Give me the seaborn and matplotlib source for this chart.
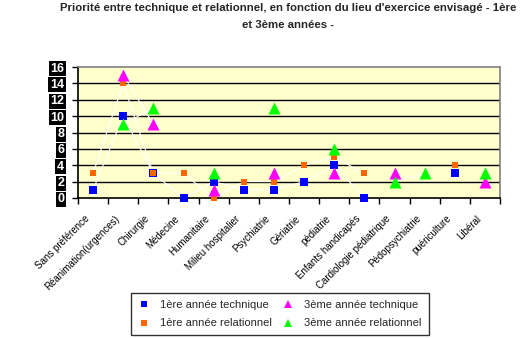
import numpy as np
import pandas as pd
import matplotlib
matplotlib.use("Agg")
import matplotlib.pyplot as plt
import seaborn as sns
from matplotlib.lines import Line2D

categories = ["Sans préférence", "Réanimation(urgences)", "Chirurgie", "Médecine",
              "Humanitaire", "Milieu hospitalier", "Psychiatrie", "Gériatrie",
              "pédiatrie", "Enfants handicapés", "Cardiologie pédiatrique",
              "Pédopsychiatrie", "puériculture", "Libéral"]
nan = np.nan
tech1 = [1, 10, 3, 0, 2, 1, 1, 2, 4, 0, nan, nan, 3, nan]
rel1 = [3, 14, 3, 3, 0, 2, 2, 4, 5, 3, nan, nan, 4, nan]
tech3 = [nan, 15, 9, nan, 1, nan, 3, nan, 3, nan, 3, nan, nan, 2]
rel3 = [nan, 9, 11, nan, 3, nan, 11, nan, 6, nan, 2, 3, nan, 3]
series_names = ["1ère année technique", "1ère année relationnel",
                "3ème année technique", "3ème année relationnel"]
yticks = [0, 2, 4, 6, 8, 10, 12, 14, 16]
title = "Priorité entre technique et relationnel, en fonction du lieu d'exercice envisagé - 1ère\net 3ème années -"

sns.set_theme(style="white")
plt.rcParams['font.family'] = ['Liberation Sans', 'DejaVu Sans']

W, H = 530, 338
fig = plt.figure(figsize=(W / 100, H / 100), dpi=100)
ax = fig.add_axes([78 / W, 1 - 198 / H, (500 - 78) / W, (198 - 67) / H])
ax.set_facecolor("#FFFFCC")

x = np.arange(len(categories)) + 0.5
specs = [
    (tech1, "#0000FF", "s", 40),
    (rel1, "#FF6600", "s", 14),
    (tech3, "#FF00FF", "^", 75),
    (rel3, "#00FF00", "^", 75),
]
for (vals, col, mk, s), name in zip(specs, series_names):
    ax.plot(x, vals, color="white", lw=0.8, zorder=2)
for (vals, col, mk, s), name in zip(specs, series_names):
    df = pd.DataFrame({"x": x, "y": vals}).dropna()
    sns.scatterplot(data=df, x="x", y="y", ax=ax, color=col, marker=mk, s=s,
                    linewidth=0, zorder=3, clip_on=False, legend=False)

ax.set_xlim(0, len(categories))
ax.set_ylim(0, 16)
ax.set_yticks(yticks)
for yv in yticks[1:-1]:
    ax.axhline(yv, color="black", lw=1, zorder=1)
ax.set_xticks(np.arange(len(categories) + 1))
ax.set_xticklabels([])
ax.tick_params(axis="x", direction="out", length=4, width=1, color="black", bottom=True)
ax.tick_params(axis="y", direction="out", length=4, width=1, color="black", left=True, pad=6)
ax.set_yticklabels([str(v) for v in yticks], fontsize=9, fontweight="bold", color="white",
                   bbox=dict(boxstyle="square,pad=0.12", fc="black", ec="none"))
ax.set_xlabel("")
ax.set_ylabel("")
for side in ["top", "right"]:
    ax.spines[side].set_color("#808080")
    ax.spines[side].set_linewidth(1.2)
for side in ["left", "bottom"]:
    ax.spines[side].set_color("black")
    ax.spines[side].set_linewidth(1.2)

for i, lab in enumerate(categories):
    ax.text(x[i] - 0.3, -1.9, lab, rotation=45, ha="right", va="top",
            fontsize=7, rotation_mode="anchor", color="black")

fig.text(288 / W, 1 - 3 / H, title, ha="center", va="top", fontsize=8.2,
         fontweight="bold", linespacing=1.9)

handles = [Line2D([], [], ls="", marker=mk, color=col, markersize=ms, markeredgewidth=0)
           for (vals, col, mk, s), ms in zip(specs, [4, 4, 6, 6])]
leg = fig.legend(handles, series_names,
                 ncol=2, loc="center", bbox_to_anchor=(280 / W, 1 - 314 / H),
                 frameon=True, fancybox=False, edgecolor="black", fontsize=8,
                 handlelength=1.0, handletextpad=1.0, columnspacing=0.9,
                 borderpad=0.6, labelspacing=0.8)
leg.get_frame().set_linewidth(1)

fig.savefig("out.png", dpi=100, facecolor="white")
